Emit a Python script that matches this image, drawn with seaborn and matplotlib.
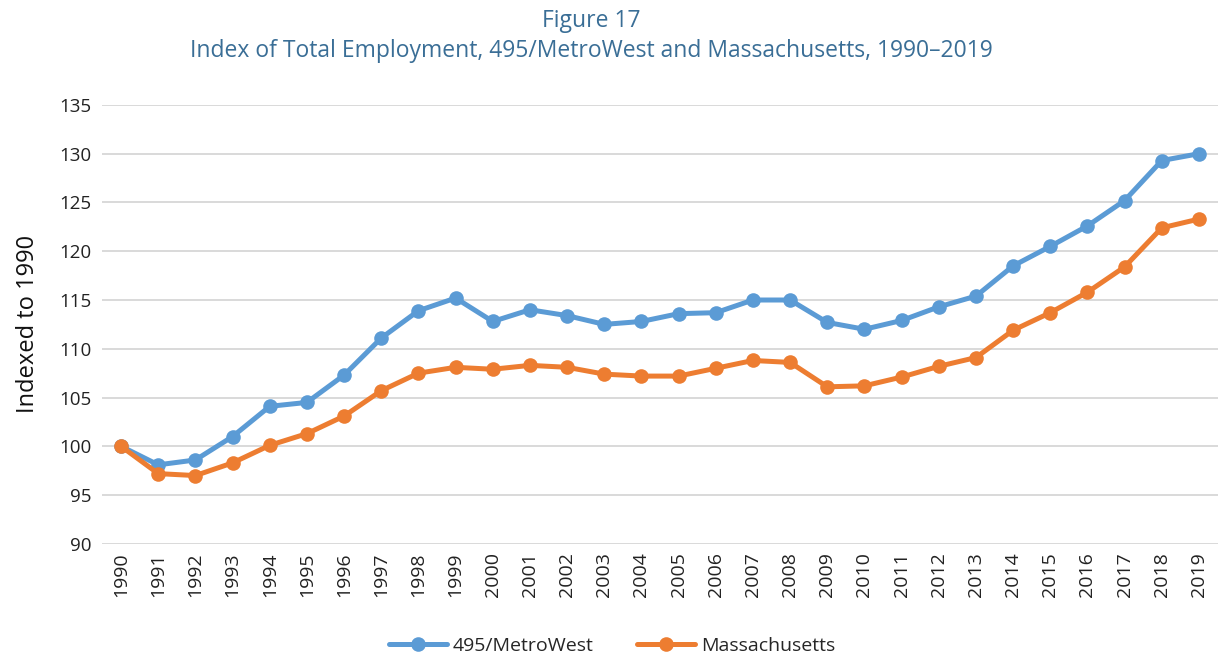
import matplotlib.pyplot as plt
import seaborn as sns
import pandas as pd

years = list(range(1990, 2020))
metrowest = [100.0, 98.1, 98.6, 101.0, 104.1, 104.5, 107.3, 111.1, 113.9, 115.2,
             112.8, 114.0, 113.4, 112.5, 112.8, 113.6, 113.7, 115.0, 115.0, 112.7,
             112.0, 112.9, 114.3, 115.4, 118.5, 120.5, 122.6, 125.2, 129.3, 130.0]
massachusetts = [100.0, 97.2, 97.0, 98.3, 100.1, 101.3, 103.1, 105.7, 107.5, 108.1,
                 107.9, 108.3, 108.1, 107.4, 107.2, 107.2, 108.0, 108.8, 108.6, 106.1,
                 106.2, 107.1, 108.2, 109.1, 111.9, 113.7, 115.8, 118.4, 122.4, 123.3]
series_names = ["495/MetroWest", "Massachusetts"]
colors = ["#5B9BD5", "#ED7D31"]

# --- données au format long ---
df = pd.DataFrame({
    "year": years * 2,
    "value": metrowest + massachusetts,
    "series": [series_names[0]] * len(years) + [series_names[1]] * len(years),
})

sns.set_style("white")
plt.rcParams["font.family"] = ["Open Sans", "DejaVu Sans"]

fig = plt.figure(figsize=(12.2, 6.6), dpi=100)
ax = fig.add_axes([0.084, 0.176, 0.914, 0.665])

sns.lineplot(
    data=df, x="year", y="value", hue="series", palette=colors,
    marker="o", markersize=10.5, markeredgewidth=0, linewidth=3.6, ax=ax,
)

ax.set_xlim(1989.5, 2019.5)
ax.set_ylim(90, 135)
ax.set_yticks(range(90, 136, 5))
ax.set_xticks(years)
ax.set_xticklabels([str(y) for y in years], rotation=90)
ax.tick_params(axis="y", labelsize=13.5, length=0, colors="#222222", pad=8)
ax.tick_params(axis="x", labelsize=14, length=0, colors="#222222", pad=6)
ax.grid(axis="y", color="#D9D9D9", linewidth=1.4)
ax.set_axisbelow(True)
for s in ax.spines.values():
    s.set_visible(False)

ax.set_xlabel("")
ax.set_ylabel("Indexed to 1990", fontsize=17, color="#111111", labelpad=14)

fig.text(0.485, 0.968, "Figure 17", ha="center", va="center", fontsize=16.5, color="#3A6E96")
fig.text(0.485, 0.922, "Index of Total Employment, 495/MetroWest and Massachusetts, 1990\u20132019",
         ha="center", va="center", fontsize=16.5, color="#3A6E96")

ax.legend(title=None, loc="center", bbox_to_anchor=(0.457, -0.232), ncol=2, frameon=False,
          fontsize=14, handlelength=3.0, columnspacing=2.2, handletextpad=0.3)

fig.savefig("out.png", dpi=100)
